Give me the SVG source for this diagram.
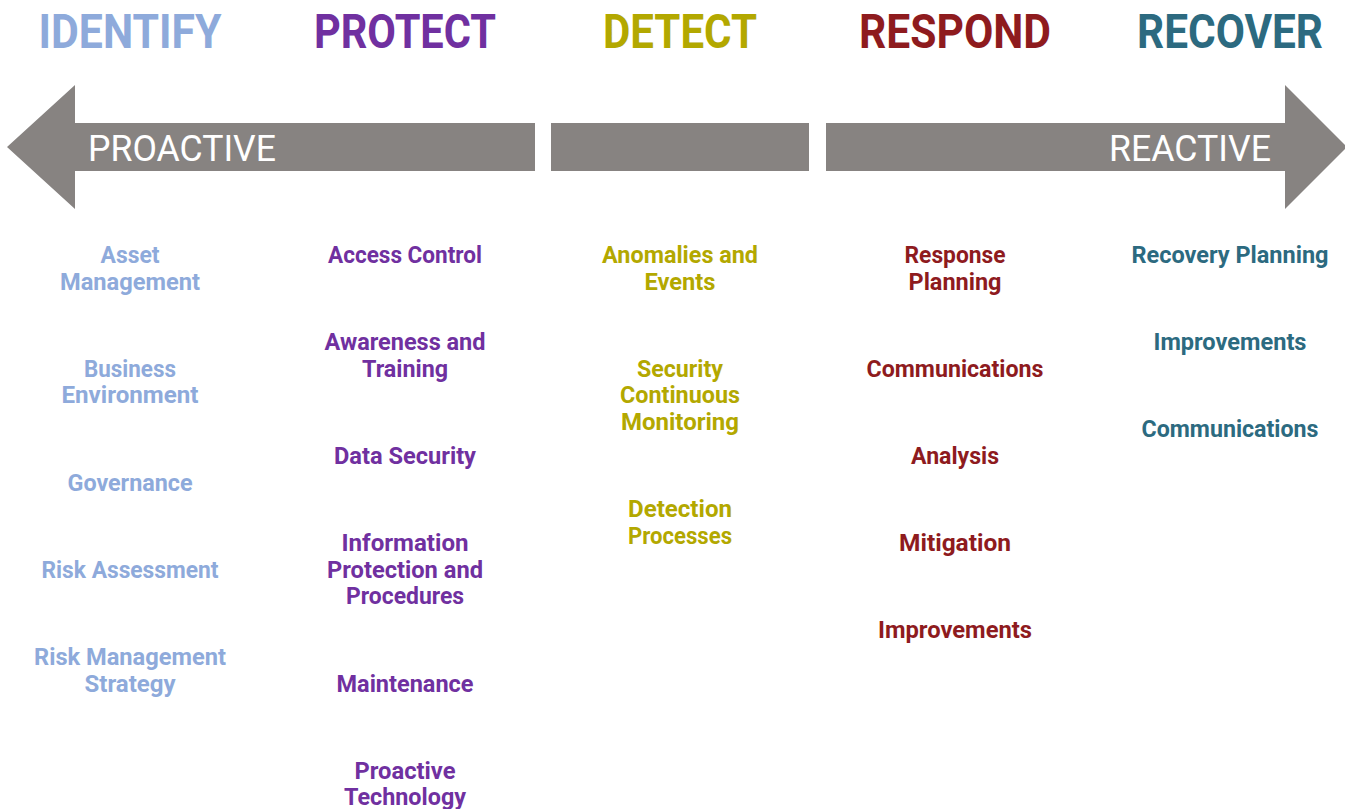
<svg xmlns="http://www.w3.org/2000/svg" width="1345" height="809" viewBox="0 0 1345 809">
<style>
.h{font-family:Roboto,"Liberation Sans",sans-serif;font-weight:700;font-size:49px;text-anchor:middle}
.t{font-family:Roboto,"Liberation Sans",sans-serif;font-weight:700;font-size:24px;text-anchor:middle}
.a{font-family:Roboto,"Liberation Sans",sans-serif;font-weight:400;font-size:37px;fill:#ffffff}
.id{fill:#8EAADB}.pr{fill:#7030A0}.de{fill:#B3A800}.rs{fill:#8E1B1E}.rc{fill:#2C6A80}
.bar{fill:#878381}
</style>
<rect width="1345" height="809" fill="#ffffff"/>
<g id="arrows">
<polygon class="bar" points="7,147 75,85 75,123 535,123 535,171 75,171 75,209"/>
<rect class="bar" x="551" y="123" width="258" height="48"/>
<polygon class="bar" points="826,123 1285,123 1285,85 1347,147 1285,209 1285,171 826,171"/>
<text class="a" x="88" y="161" textLength="188" lengthAdjust="spacingAndGlyphs">PROACTIVE</text>
<text class="a" x="1109" y="161" textLength="162" lengthAdjust="spacingAndGlyphs">REACTIVE</text>
</g>
<g id="identify" class="id">
<text class="h id" x="130" y="48" textLength="183" lengthAdjust="spacingAndGlyphs">IDENTIFY</text>
<text class="t id" x="130" y="263" textLength="59" lengthAdjust="spacingAndGlyphs">Asset</text>
<text class="t id" x="130" y="290" textLength="140" lengthAdjust="spacingAndGlyphs">Management</text>
<text class="t id" x="130" y="377" textLength="92" lengthAdjust="spacingAndGlyphs">Business</text>
<text class="t id" x="130" y="403" textLength="137" lengthAdjust="spacingAndGlyphs">Environment</text>
<text class="t id" x="130" y="491" textLength="125" lengthAdjust="spacingAndGlyphs">Governance</text>
<text class="t id" x="130" y="578" textLength="177" lengthAdjust="spacingAndGlyphs">Risk Assessment</text>
<text class="t id" x="130" y="665" textLength="192" lengthAdjust="spacingAndGlyphs">Risk Management</text>
<text class="t id" x="130" y="692" textLength="91" lengthAdjust="spacingAndGlyphs">Strategy</text>
</g>
<g id="protect">
<text class="h pr" x="405" y="48" textLength="182" lengthAdjust="spacingAndGlyphs">PROTECT</text>
<text class="t pr" x="405" y="263" textLength="154" lengthAdjust="spacingAndGlyphs">Access Control</text>
<text class="t pr" x="405" y="350" textLength="161" lengthAdjust="spacingAndGlyphs">Awareness and</text>
<text class="t pr" x="405" y="377" textLength="86" lengthAdjust="spacingAndGlyphs">Training</text>
<text class="t pr" x="405" y="464" textLength="142" lengthAdjust="spacingAndGlyphs">Data Security</text>
<text class="t pr" x="405" y="551" textLength="127" lengthAdjust="spacingAndGlyphs">Information</text>
<text class="t pr" x="405" y="578" textLength="156" lengthAdjust="spacingAndGlyphs">Protection and</text>
<text class="t pr" x="405" y="604" textLength="118" lengthAdjust="spacingAndGlyphs">Procedures</text>
<text class="t pr" x="405" y="692" textLength="137" lengthAdjust="spacingAndGlyphs">Maintenance</text>
<text class="t pr" x="405" y="779" textLength="101" lengthAdjust="spacingAndGlyphs">Proactive</text>
<text class="t pr" x="405" y="805" textLength="122" lengthAdjust="spacingAndGlyphs">Technology</text>
</g>
<g id="detect">
<text class="h de" x="680" y="48" textLength="154" lengthAdjust="spacingAndGlyphs">DETECT</text>
<text class="t de" x="680" y="263" textLength="156" lengthAdjust="spacingAndGlyphs">Anomalies and</text>
<text class="t de" x="680" y="290" textLength="71" lengthAdjust="spacingAndGlyphs">Events</text>
<text class="t de" x="680" y="377" textLength="86" lengthAdjust="spacingAndGlyphs">Security</text>
<text class="t de" x="680" y="403" textLength="120" lengthAdjust="spacingAndGlyphs">Continuous</text>
<text class="t de" x="680" y="430" textLength="118" lengthAdjust="spacingAndGlyphs">Monitoring</text>
<text class="t de" x="680" y="517" textLength="104" lengthAdjust="spacingAndGlyphs">Detection</text>
<text class="t de" x="680" y="544" textLength="104" lengthAdjust="spacingAndGlyphs">Processes</text>
</g>
<g id="respond">
<text class="h rs" x="955" y="48" textLength="192" lengthAdjust="spacingAndGlyphs">RESPOND</text>
<text class="t rs" x="955" y="263" textLength="101" lengthAdjust="spacingAndGlyphs">Response</text>
<text class="t rs" x="955" y="290" textLength="93" lengthAdjust="spacingAndGlyphs">Planning</text>
<text class="t rs" x="955" y="377" textLength="177" lengthAdjust="spacingAndGlyphs">Communications</text>
<text class="t rs" x="955" y="464" textLength="88" lengthAdjust="spacingAndGlyphs">Analysis</text>
<text class="t rs" x="955" y="551" textLength="112" lengthAdjust="spacingAndGlyphs">Mitigation</text>
<text class="t rs" x="955" y="638" textLength="154" lengthAdjust="spacingAndGlyphs">Improvements</text>
</g>
<g id="recover">
<text class="h rc" x="1230" y="48" textLength="186" lengthAdjust="spacingAndGlyphs">RECOVER</text>
<text class="t rc" x="1230" y="263" textLength="197" lengthAdjust="spacingAndGlyphs">Recovery Planning</text>
<text class="t rc" x="1230" y="350" textLength="153" lengthAdjust="spacingAndGlyphs">Improvements</text>
<text class="t rc" x="1230" y="437" textLength="177" lengthAdjust="spacingAndGlyphs">Communications</text>
</g>
</svg>
